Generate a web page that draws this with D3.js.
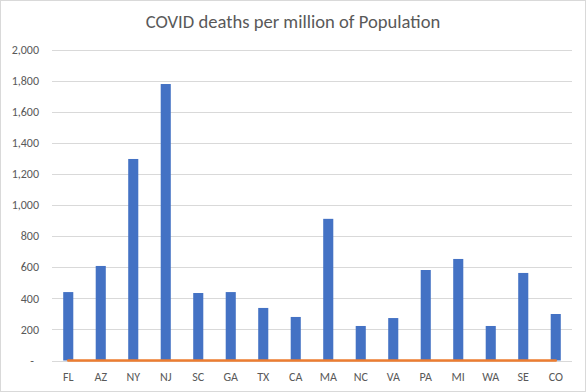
<!DOCTYPE html>
<html><head><meta charset="utf-8">
<script src="https://cdn.jsdelivr.net/npm/d3@7"></script>
<style>
html,body{margin:0;padding:0;background:#fff;}
svg{display:block;font-family:Calibri,Carlito,Lato,"Open Sans",sans-serif;}
</style></head>
<body>
<svg id="chart" width="586" height="392"></svg>
<script>
const categories = ["FL","AZ","NY","NJ","SC","GA","TX","CA","MA","NC","VA","PA","MI","WA","SE","CO"];
const deaths = [440,608,1296,1778,434,440,338,280,911,222,273,582,653,222,563,299];
const baseline = [0,0,0,0,0,0,0,0,0,0,0,0,0,0,0,0];
const yTicks = [0,200,400,600,800,1000,1200,1400,1600,1800,2000];
const title = "COVID deaths per million of Population";

const svg = d3.select("#chart");
const W = 586, H = 392;
const m = {left:52, right:14, top:49.5, bottom:31.5};

svg.append("rect").attr("x",0.5).attr("y",0.5).attr("width",W-1).attr("height",H-1)
  .attr("fill","#fff").attr("stroke","#d9d9d9");

const x = d3.scaleBand().domain(categories).range([m.left, W-m.right]).paddingInner(0.69).paddingOuter(0.345);
const y = d3.scaleLinear().domain([0,2000]).range([H-m.bottom, m.top]);

// gridlines
svg.append("g").selectAll("line").data(yTicks).join("line")
  .attr("x1",m.left).attr("x2",W-m.right)
  .attr("y1",d=>Math.round(y(d))+0.5).attr("y2",d=>Math.round(y(d))+0.5)
  .attr("stroke","#d9d9d9").attr("stroke-width",1);

// y labels
const fmt = d3.format(",");
svg.append("g").selectAll("text").data(yTicks).join("text")
  .attr("x",d=>d===0?34:39).attr("y",d=>y(d)).attr("dy","0.35em")
  .attr("text-anchor","end").attr("font-size",12).attr("fill","#595959")
  .text(d=>d===0?"-":fmt(d));

// bars
svg.append("g").selectAll("rect").data(deaths).join("rect")
  .attr("x",(d,i)=>x(categories[i])).attr("width",x.bandwidth())
  .attr("y",d=>y(d)).attr("height",d=>y(0)-y(d))
  .attr("fill","#4472c4");

// orange line series
const line = d3.line().x((d,i)=>x(categories[i])+x.bandwidth()/2).y(d=>y(d));
svg.append("path").datum(baseline).attr("d",line)
  .attr("fill","none").attr("stroke","#ed7d31").attr("stroke-width",2.5).attr("stroke-linecap","round");

// x labels
svg.append("g").selectAll("text").data(categories).join("text")
  .attr("x",d=>x(d)+x.bandwidth()/2).attr("y",H-m.bottom+16).attr("dy","0.35em")
  .attr("text-anchor","middle").attr("font-size",12).attr("fill","#595959")
  .text(d=>d);

// title
svg.append("text").attr("x",W/2).attr("y",21).attr("dy","0.35em")
  .attr("text-anchor","middle").attr("font-size",18.6).attr("fill","#595959")
  .text(title);
</script>
</body></html>
